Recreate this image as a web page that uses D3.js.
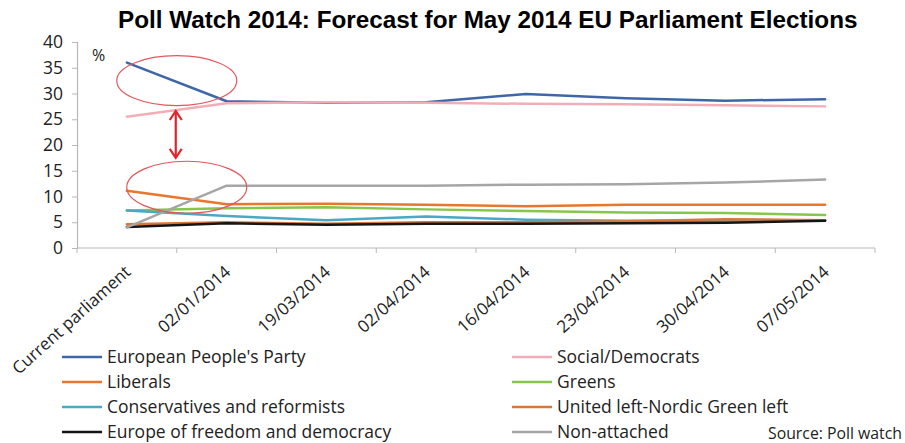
<!DOCTYPE html>
<html><head><meta charset="utf-8">
<script src="https://cdn.jsdelivr.net/npm/d3@7"></script>
<style>
body{margin:0;background:#fff;}
svg{display:block;}
</style></head>
<body>
<svg id="chart" width="905" height="443"></svg>
<script>
const categories = ["Current parliament","02/01/2014","19/03/2014","02/04/2014","16/04/2014","23/04/2014","30/04/2014","07/05/2014"];
const seriesNames = ["European People's Party","Social/Democrats","Liberals","Greens","Conservatives and reformists","United left-Nordic Green left","Europe of freedom and democracy","Non-attached"];
const epp    = [36.0, 28.5, 28.2, 28.3, 29.9, 29.1, 28.6, 28.9];
const sd     = [25.5, 28.1, 28.3, 28.2, 28.0, 27.9, 27.7, 27.5];
const lib    = [11.1, 8.5, 8.6, 8.4, 8.1, 8.4, 8.4, 8.4];
const greens = [7.3, 7.7, 7.9, 7.5, 7.2, 6.9, 6.8, 6.4];
const ecr    = [7.3, 6.2, 5.4, 6.1, 5.5, 5.3, 5.3, 5.4];
const gue    = [4.6, 5.0, 4.7, 5.0, 5.0, 5.2, 5.6, 5.4];
const efd    = [4.1, 4.8, 4.5, 4.7, 4.7, 4.8, 4.9, 5.3];
const ni     = [4.0, 12.1, 12.1, 12.1, 12.3, 12.4, 12.7, 13.3];
const yTicks = [0,5,10,15,20,25,30,35,40];
const colors = ["#3F67A8","#F2AEB6","#E8772E","#86C64A","#4AA8C4","#D9773A","#151515","#A6A6A6"];
const values = [epp, sd, lib, greens, ecr, gue, efd, ni];

(function(){
const svg = d3.select("#chart");
const mLeft = 77, mRight = 875, mTop = 42, mBottom = 248;

const x = d3.scaleBand().domain(categories).range([mLeft, mRight]).padding(0);
const y = d3.scaleLinear().domain([0, 40]).range([mBottom, mTop]);
const cx = c => x(c) + x.bandwidth()/2;

// Title (bold, compressed horizontally to Arial-Narrow-like width)
const titleG = svg.append("g");
const title = titleG.append("text").attr("x", 0).attr("y", 0)
  .style("font-family","'Liberation Sans',Arial,sans-serif")
  .style("font-weight","bold").style("font-size","24px").attr("fill","#000")
  .text("Poll Watch 2014: Forecast for May 2014 EU Parliament Elections");
{
  const w = title.node().getComputedTextLength();
  const sx = 740 / w;
  titleG.attr("transform", `translate(118,28) scale(${sx.toFixed(4)},1)`);
}

const axisColor = "#B8B8B8";
const tickFont = "'Open Sans',sans-serif";

// Y axis
const yAxis = svg.append("g").attr("transform",`translate(${mLeft},0)`)
  .call(d3.axisLeft(y).tickValues(yTicks).tickSize(5).tickPadding(9));
yAxis.select(".domain").attr("stroke",axisColor).attr("stroke-width",1.2);
yAxis.selectAll(".tick line").attr("stroke",axisColor);
yAxis.selectAll(".tick text").style("font-family",tickFont).style("font-size","17.5px").attr("fill","#222");

// X axis (ticks at category boundaries)
const xAxisG = svg.append("g").attr("transform",`translate(0,${mBottom})`);
xAxisG.append("line").attr("x1",mLeft).attr("x2",mRight).attr("stroke",axisColor).attr("stroke-width",1.2);
const bounds = categories.map(c => x(c)).concat([mRight]);
xAxisG.selectAll("line.tk").data(bounds).join("line").attr("class","tk")
  .attr("x1",d=>d).attr("x2",d=>d).attr("y1",0).attr("y2",5).attr("stroke",axisColor);
xAxisG.selectAll("text.lbl").data(categories).join("text").attr("class","lbl")
  .attr("transform", d => `translate(${cx(d)+1},${21}) rotate(-42)`)
  .attr("text-anchor","end").attr("dy","0.35em")
  .style("font-family",tickFont).style("font-size","17px").attr("fill","#222")
  .text(d=>d);

// % label
svg.append("text").attr("x",92).attr("y",61).style("font-family",tickFont).style("font-size","16px").attr("fill","#222").text("%");

// Lines
const line = d3.line().x((d,i)=>cx(categories[i])).y(d=>y(d));
svg.append("g").selectAll("path").data(values).join("path")
  .attr("d", d=>line(d)).attr("fill","none")
  .attr("stroke",(d,i)=>colors[i]).attr("stroke-width",2.5)
  .attr("stroke-linejoin","round").attr("stroke-linecap","round");

// Annotations
const ann = svg.append("g");
const midX = (cx(categories[0]) + cx(categories[1]))/2;
ann.append("ellipse").attr("cx", midX).attr("cy", y(32.5)).attr("rx",60).attr("ry",25)
  .attr("fill","none").attr("stroke","#E3575C").attr("stroke-width",1.2);
ann.append("ellipse").attr("cx", midX+10).attr("cy", y(11.8)).attr("rx",60).attr("ry",26)
  .attr("fill","none").attr("stroke","#E3575C").attr("stroke-width",1.2);
const ay1 = y(26.6), ay2 = y(17.5), ax = midX - 1;
ann.append("line").attr("x1",ax).attr("x2",ax).attr("y1",ay1+1).attr("y2",ay2-1).attr("stroke","#E42328").attr("stroke-width",2.2);
ann.append("path").attr("d",`M${ax-6},${ay1+9}L${ax},${ay1}L${ax+6},${ay1+9}`).attr("fill","none").attr("stroke","#E42328").attr("stroke-width",2.2);
ann.append("path").attr("d",`M${ax-6},${ay2-9}L${ax},${ay2}L${ax+6},${ay2-9}`).attr("fill","none").attr("stroke","#E42328").attr("stroke-width",2.2);

// Legend
const legendFont = "'Open Sans',sans-serif";
const colX = [62, 512];
const rowY = [357, 382, 407, 432];
const legendOrder = [[0,2,4,6],[1,3,5,7]];
const lg = svg.append("g");
legendOrder.forEach((col, ci) => {
  col.forEach((si, ri) => {
    lg.append("line").attr("x1",colX[ci]).attr("x2",colX[ci]+40).attr("y1",rowY[ri]).attr("y2",rowY[ri])
      .attr("stroke",colors[si]).attr("stroke-width",2.5);
    lg.append("text").attr("x",colX[ci]+45).attr("y",rowY[ri]).attr("dy","0.35em")
      .style("font-family",legendFont).style("font-size","17.5px").attr("fill","#222").text(seriesNames[si]);
  });
});
svg.append("text").attr("x",902).attr("y",433).attr("dy","0.35em").attr("text-anchor","end")
  .style("font-family",legendFont).style("font-size","15.8px").attr("fill","#222").text("Source: Poll watch");
})();
</script>
</body></html>
